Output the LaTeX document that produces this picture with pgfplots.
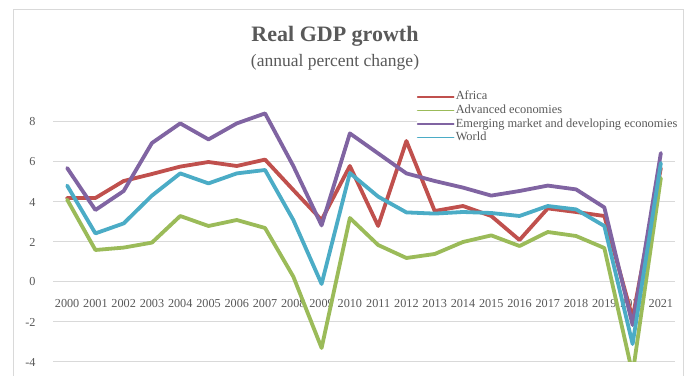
\documentclass[border=0pt]{standalone}
\usepackage{pgfplots}
\pgfplotsset{compat=1.18}
\usepackage{fontspec}
\setmainfont{Liberation Serif}
\definecolor{afr}{HTML}{C0504D}
\definecolor{adv}{HTML}{9BBB59}
\definecolor{emd}{HTML}{8064A2}
\definecolor{wld}{HTML}{4BACC6}
\definecolor{txt}{HTML}{595959}
\definecolor{grd}{HTML}{D9D9D9}
\pgfplotsset{base/.style={
  at={(53pt,14pt)}, anchor=south west,
  scale only axis, width=622pt, height=260pt,
  xmin=-0.5, xmax=21.5, ymin=-4, ymax=9,
  axis line style={draw=none},
  major tick length=0pt}}
\begin{document}
\begin{tikzpicture}[x=1pt,y=1pt]
\fill[white] (0,0) rectangle (688,376);
\draw[grd, line width=1pt] (13,0) -- (13,366) -- (683,366) -- (683,0);
\node[txt, font=\fontsize{22}{26}\selectfont\bfseries, anchor=base] at (335,334.5) {Real GDP growth};
\node[txt, font=\fontsize{17.5}{20}\selectfont, anchor=base] at (335,309.5) {(annual percent change)};
% grid and tick labels underneath
\begin{axis}[base,
  xtick={0,...,21},
  xticklabels={2000,2001,2002,2003,2004,2005,2006,2007,2008,2009,2010,2011,2012,2013,2014,2015,2016,2017,2018,2019,2020,2021},
  ytick={-4,-2,0,2,4,6,8},
  ymajorgrids, grid style={grd, line width=1pt},
  /pgf/number format/assume math mode=true,
  tick label style={txt, font=\fontsize{12.2}{14}\selectfont},
  xticklabel style={yshift=66pt},
  yticklabel style={xshift=-14pt},
]
\end{axis}
% data on top
\begin{axis}[base,
  xtick=\empty, ytick=\empty,
  legend style={at={(0.585,1.046)}, anchor=north west, draw=none, fill=white,
    inner sep=0pt, outer sep=0pt, row sep=0pt,
    font=\fontsize{12.4}{14}\selectfont, text=txt,
    nodes={inner sep=1.3pt, text height=8.5pt, text depth=2.5pt}},
  legend cell align=left,
  legend image code/.code={\draw[#1, line width=1.6pt] (0pt,0pt) -- (36pt,0pt);},
  every axis plot/.append style={line width=3.8pt, line join=round, line cap=round},
]
\addplot[afr] coordinates {(0,4.2)(1,4.2)(2,5.05)(3,5.4)(4,5.77)(5,6.0)(6,5.8)(7,6.12)(8,4.6)(9,3.1)(10,5.8)(11,2.8)(12,7.05)(13,3.55)(14,3.8)(15,3.3)(16,2.1)(17,3.68)(18,3.5)(19,3.3)(20,-1.8)(21,5.7)};
\addlegendentry{Africa}
\addplot[adv] coordinates {(0,4.12)(1,1.6)(2,1.72)(3,1.97)(4,3.3)(5,2.8)(6,3.1)(7,2.7)(8,0.27)(9,-3.3)(10,3.2)(11,1.85)(12,1.2)(13,1.4)(14,2.0)(15,2.33)(16,1.8)(17,2.5)(18,2.3)(19,1.7)(20,-4.6)(21,5.2)};
\addlegendentry{Advanced economies}
\addplot[emd] coordinates {(0,5.7)(1,3.6)(2,4.55)(3,6.95)(4,7.93)(5,7.13)(6,7.93)(7,8.43)(8,5.8)(9,2.83)(10,7.43)(11,6.43)(12,5.43)(13,5.05)(14,4.72)(15,4.32)(16,4.55)(17,4.82)(18,4.63)(19,3.73)(20,-2.15)(21,6.45)};
\addlegendentry{Emerging market and developing economies}
\addplot[wld] coordinates {(0,4.82)(1,2.43)(2,2.93)(3,4.32)(4,5.43)(5,4.93)(6,5.43)(7,5.6)(8,3.1)(9,-0.1)(10,5.45)(11,4.27)(12,3.48)(13,3.42)(14,3.5)(15,3.45)(16,3.3)(17,3.8)(18,3.63)(19,2.8)(20,-3.1)(21,5.95)};
\addlegendentry{World}
\end{axis}
\end{tikzpicture}
\end{document}
